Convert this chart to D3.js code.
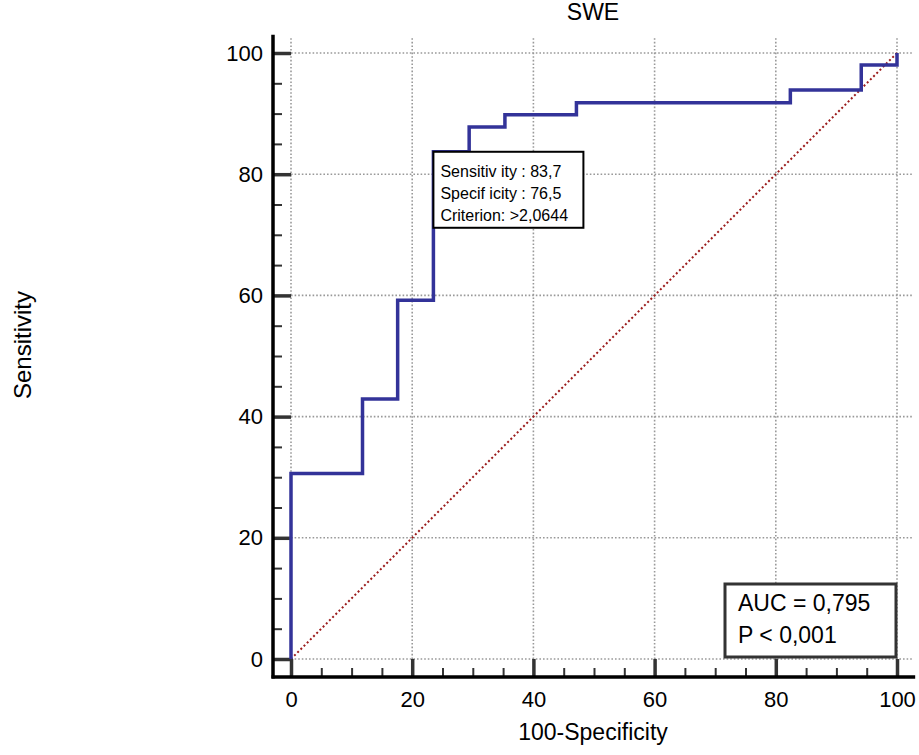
<!DOCTYPE html>
<html>
<head>
<meta charset="utf-8">
<script src="https://cdn.jsdelivr.net/npm/d3@7"></script>
<style>
  body { margin: 0; background: #fff; }
  text { font-family: "Liberation Sans", Arial, sans-serif; fill: #000; }
</style>
</head>
<body>
<div id="chart"></div>
<script>
// ROC points (100-Specificity, Sensitivity)
var fpr = [0, 0, 11.8, 17.6, 23.5, 29.4, 35.3, 47.1, 82.4, 94.1, 100];
var sens = [0, 30.6, 42.9, 59.2, 83.7, 87.8, 89.8, 91.8, 93.9, 98.0, 100];
var majorTicks = [0, 20, 40, 60, 80, 100];
var minorTicks = [5, 10, 15, 25, 30, 35, 45, 50, 55, 65, 70, 75, 85, 90, 95];
var criterionLines = ["Sensitiv ity : 83,7", "Specif icity : 76,5", "Criterion: >2,0644"];
var aucLines = ["AUC = 0,795", "P < 0,001"];
var criterionPoint = [23.5, 83.7];

var W = 919, H = 755;
var svg = d3.select('#chart').append('svg')
    .attr('xmlns', 'http://www.w3.org/2000/svg')
    .attr('width', W).attr('height', H);

var x = d3.scaleLinear().domain([0, 100]).range([291, 897]);
var y = d3.scaleLinear().domain([0, 100]).range([659, 53]);
var axisX = 273, axisY = 677;

// grid
var grid = svg.append('g').attr('stroke', '#999').attr('stroke-width', 1.6).attr('stroke-dasharray', '1.6,2');
grid.selectAll('.gv').data(majorTicks).enter().append('line')
    .attr('x1', function (d) { return x(d); }).attr('x2', function (d) { return x(d); })
    .attr('y1', y(0)).attr('y2', y(102.5));
grid.selectAll('.gh').data(majorTicks).enter().append('line')
    .attr('y1', function (d) { return y(d); }).attr('y2', function (d) { return y(d); })
    .attr('x1', x(0)).attr('x2', x(102.5));

// diagonal reference
svg.append('line')
    .attr('x1', x(0)).attr('y1', y(0)).attr('x2', x(100)).attr('y2', y(100))
    .attr('stroke', '#9b1c1c').attr('stroke-width', 2).attr('stroke-dasharray', '2,2.5');

// axes: major
var xAxis = svg.append('g').attr('transform', 'translate(0,' + axisY + ')')
    .call(d3.axisBottom(x).tickValues(majorTicks).tickSize(-(axisY - y(0))).tickPadding(14).tickSizeOuter(0));
var xMinor = svg.append('g').attr('transform', 'translate(0,' + axisY + ')')
    .call(d3.axisBottom(x).tickValues(minorTicks).tickSize(-9).tickFormat(''));
var yAxis = svg.append('g').attr('transform', 'translate(' + axisX + ',0)')
    .call(d3.axisLeft(y).tickValues(majorTicks).tickSize(-(x(0) - axisX)).tickPadding(10).tickSizeOuter(0));
var yMinor = svg.append('g').attr('transform', 'translate(' + axisX + ',0)')
    .call(d3.axisLeft(y).tickValues(minorTicks).tickSize(-9).tickFormat(''));

[xAxis, xMinor, yAxis, yMinor].forEach(function (g) { g.select('.domain').remove(); });
xAxis.selectAll('line').attr('stroke', '#333').attr('stroke-width', 3.5);
yAxis.selectAll('line').attr('stroke', '#333').attr('stroke-width', 3.5);
xMinor.selectAll('line').attr('stroke', '#333').attr('stroke-width', 2);
yMinor.selectAll('line').attr('stroke', '#333').attr('stroke-width', 2);
xAxis.selectAll('text').attr('font-size', 22).attr('font-family', '"Liberation Sans", Arial, sans-serif').attr('fill', '#000');
yAxis.selectAll('text').attr('font-size', 22).attr('font-family', '"Liberation Sans", Arial, sans-serif').attr('fill', '#000');

// axis lines
svg.append('line').attr('x1', axisX).attr('x2', axisX).attr('y1', y(103)).attr('y2', axisY + 1.5)
    .attr('stroke', '#000').attr('stroke-width', 3.5);
svg.append('line').attr('x1', axisX - 1.5).attr('x2', x(103)).attr('y1', axisY).attr('y2', axisY)
    .attr('stroke', '#000').attr('stroke-width', 3.5);

// ROC curve
var rocLine = d3.line()
    .x(function (d, i) { return x(fpr[i]); })
    .y(function (d, i) { return y(sens[i]); })
    .curve(d3.curveStepAfter);
svg.append('path').datum(fpr)
    .attr('d', rocLine)
    .attr('fill', 'none').attr('stroke', '#333399').attr('stroke-width', 3.5);

// criterion box
var cb = svg.append('g').attr('transform', 'translate(' + x(criterionPoint[0]) + ',' + y(criterionPoint[1]) + ')');
cb.append('rect').attr('width', 150).attr('height', 76)
    .attr('fill', '#fff').attr('stroke', '#000').attr('stroke-width', 2);
cb.selectAll('text').data(criterionLines).enter().append('text')
    .attr('x', 7).attr('y', function (d, i) { return 25 + i * 22; })
    .attr('font-size', 16).text(function (d) { return d; });

// AUC box
var ab = svg.append('g').attr('transform', 'translate(725,584)');
ab.append('rect').attr('width', 171).attr('height', 73)
    .attr('fill', '#fff').attr('stroke', '#333').attr('stroke-width', 3);
ab.selectAll('text').data(aucLines).enter().append('text')
    .attr('x', 13).attr('y', function (d, i) { return 27 + i * 32; })
    .attr('font-size', 23).text(function (d) { return d; });

// titles
svg.append('text').attr('x', 593).attr('y', 20).attr('text-anchor', 'middle')
    .attr('font-size', 23).text('SWE');
svg.append('text').attr('x', 593).attr('y', 740).attr('text-anchor', 'middle')
    .attr('font-size', 23).text('100-Specificity');
svg.append('text').attr('transform', 'translate(31,345) rotate(-90)').attr('text-anchor', 'middle')
    .attr('font-size', 24).text('Sensitivity');
</script>
</body>
</html>
